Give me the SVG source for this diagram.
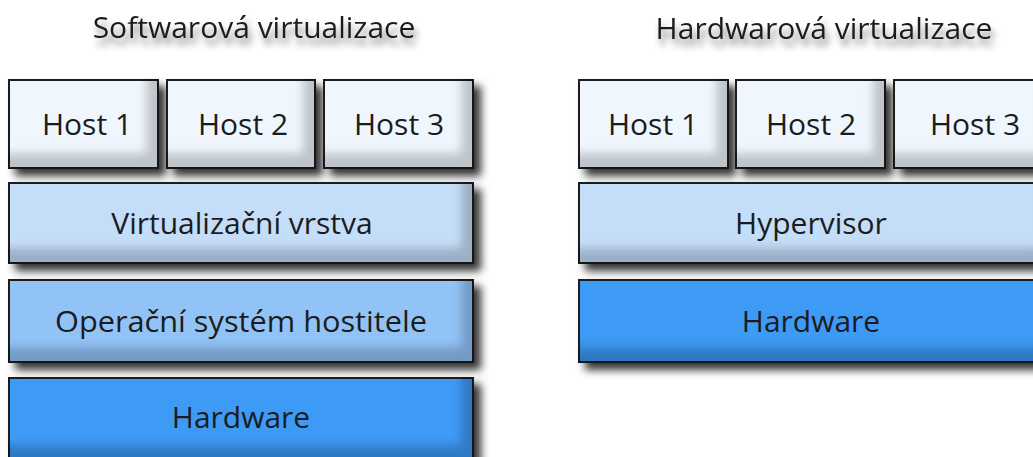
<svg xmlns="http://www.w3.org/2000/svg" width="1033" height="457" viewBox="0 0 1033 457">
<defs>
<style>
.box{stroke:#1e1e1e;stroke-width:2;filter:url(#bev)}
.host{fill:#eff6fd}
.virt{fill:#c4ddf8}
.os{fill:#92c3f6}
.hw{fill:#3e9af5}
.lbl{font-family:"Open Sans","Noto Sans","Liberation Sans",sans-serif;font-size:30px;fill:#1c1c1c;text-anchor:middle}
.title{font-family:"Open Sans","Noto Sans","Liberation Sans",sans-serif;font-size:30px;fill:#1c1c1c;text-anchor:middle;filter:url(#tsh)}
</style>
<filter id="bev" x="-10%" y="-25%" width="130%" height="160%">
<feOffset in="SourceAlpha" dx="7" dy="7" result="o1"/>
<feGaussianBlur in="o1" stdDeviation="4" result="b1"/>
<feFlood flood-color="#000" flood-opacity="0.8"/>
<feComposite in2="b1" operator="in" result="drop"/>
<feOffset in="SourceAlpha" dx="-13" dy="-16" result="o2"/>
<feGaussianBlur in="o2" stdDeviation="5" result="b2"/>
<feComposite in="SourceAlpha" in2="b2" operator="out" result="edge"/>
<feFlood flood-color="#000" flood-opacity="0.4"/>
<feComposite in2="edge" operator="in" result="inner"/>
<feComposite in="inner" in2="SourceGraphic" operator="atop" result="bevel"/>
<feMerge>
<feMergeNode in="drop"/>
<feMergeNode in="SourceGraphic"/>
<feMergeNode in="bevel"/>
</feMerge>
</filter>
<filter id="tsh" x="-10%" y="-40%" width="120%" height="200%">
<feOffset in="SourceAlpha" dx="3" dy="7" result="o"/>
<feGaussianBlur in="o" stdDeviation="3.5" result="b"/>
<feFlood flood-color="#000" flood-opacity="0.5"/>
<feComposite in2="b" operator="in" result="s"/>
<feMerge><feMergeNode in="s"/><feMergeNode in="SourceGraphic"/></feMerge>
</filter>
</defs>
<rect width="1033" height="457" fill="#fff"/>

<g id="title-sw"><text class="title" x="254" y="38">Softwarová virtualizace</text></g>
<g id="title-hw"><text class="title" x="824" y="39">Hardwarová virtualizace</text></g>

<g id="sw-host1"><rect class="box host" x="9" y="80" width="149" height="88"/><text class="lbl" x="87" y="135">Host 1</text></g>
<g id="sw-host2"><rect class="box host" x="167" y="80" width="148" height="88"/><text class="lbl" x="243" y="135">Host 2</text></g>
<g id="sw-host3"><rect class="box host" x="324" y="80" width="149" height="88"/><text class="lbl" x="399" y="135">Host 3</text></g>
<g id="sw-virt"><rect class="box virt" x="9" y="183" width="464" height="80"/><text class="lbl" x="242" y="234">Virtualizační vrstva</text></g>
<g id="sw-os"><rect class="box os" x="9" y="280" width="464" height="82"/><text class="lbl" x="241" y="332" textLength="372" lengthAdjust="spacingAndGlyphs">Operační systém hostitele</text></g>
<g id="sw-hw"><rect class="box hw" x="9" y="378" width="464" height="82"/><text class="lbl" x="241" y="428">Hardware</text></g>

<g id="hw-host1"><rect class="box host" x="579" y="80" width="149" height="88"/><text class="lbl" x="653" y="135">Host 1</text></g>
<g id="hw-host2"><rect class="box host" x="736" y="80" width="149" height="88"/><text class="lbl" x="811" y="135">Host 2</text></g>
<g id="hw-host3"><rect class="box host" x="894" y="80" width="160" height="88"/><text class="lbl" x="975" y="135">Host 3</text></g>
<g id="hw-hyp"><rect class="box virt" x="579" y="183" width="475" height="80"/><text class="lbl" x="811" y="234">Hypervisor</text></g>
<g id="hw-hw"><rect class="box hw" x="579" y="280" width="475" height="82"/><text class="lbl" x="811" y="332">Hardware</text></g>
</svg>
